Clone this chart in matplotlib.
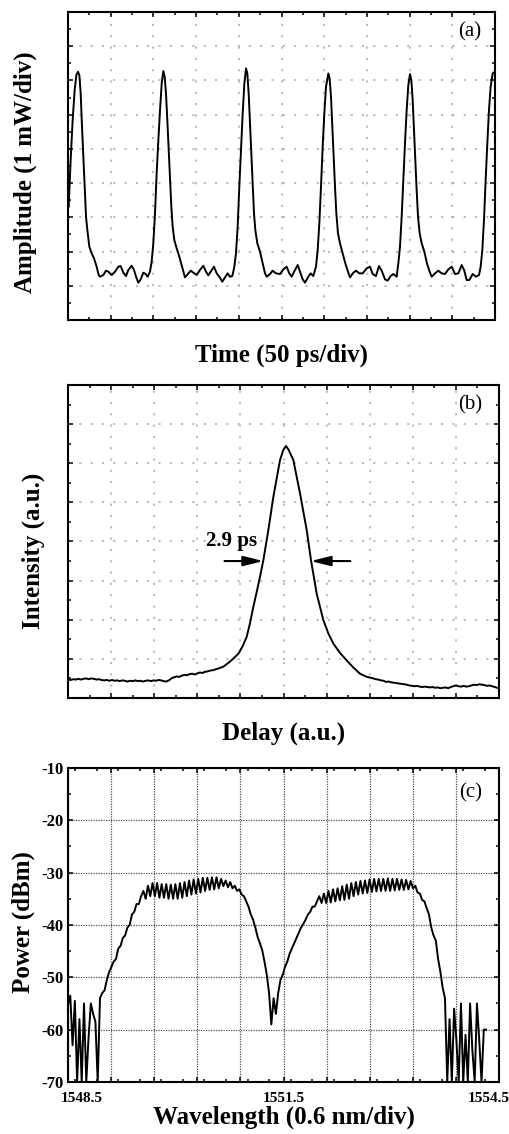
import numpy as np
import matplotlib
matplotlib.use('Agg')
import matplotlib.pyplot as plt
from matplotlib.ticker import MultipleLocator
from matplotlib.transforms import ScaledTranslation

plt.rcParams['font.family'] = 'Liberation Serif'
plt.rcParams['axes.unicode_minus'] = False

# ---------------- data ----------------
# (a) pulse train, time and amplitude in screen divisions
time_div = [
    0.016, 0.062, 0.109, 0.156, 0.195, 0.234, 0.265, 0.297, 0.328, 0.359,
    0.390, 0.422, 0.453, 0.500, 0.554, 0.609, 0.671, 0.718, 0.749,
    0.827, 0.890, 0.945, 1.023, 1.101, 1.179, 1.233, 1.296, 1.358, 1.413,
    1.491, 1.546, 1.593, 1.647, 1.702, 1.764, 1.819, 1.866,
    1.920, 1.959, 1.998, 2.037, 2.076, 2.116, 2.155, 2.194, 2.233, 2.264,
    2.295, 2.326, 2.358, 2.389, 2.420, 2.451, 2.490, 2.545, 2.607, 2.670, 2.740,
    2.818, 2.873, 2.935, 3.013, 3.091, 3.169, 3.232, 3.286, 3.341, 3.419,
    3.482, 3.544, 3.614, 3.677, 3.739, 3.794, 3.849,
    3.895, 3.934, 3.973, 4.012, 4.052, 4.091, 4.130, 4.169, 4.200, 4.231,
    4.262, 4.293, 4.325, 4.356, 4.387, 4.434, 4.496, 4.559, 4.614, 4.653,
    4.731, 4.793, 4.871, 4.965, 5.043, 5.121, 5.183, 5.238, 5.316, 5.379,
    5.433, 5.496, 5.550, 5.628, 5.683, 5.745,
    5.808, 5.847, 5.886, 5.925, 5.964, 6.003, 6.042, 6.097, 6.128, 6.159,
    6.190, 6.222, 6.253, 6.284, 6.323, 6.370, 6.432, 6.495, 6.557, 6.604,
    6.682, 6.745, 6.823, 6.901, 6.995, 7.073, 7.135, 7.213, 7.283, 7.346,
    7.424, 7.486, 7.557, 7.619, 7.697,
    7.736, 7.775, 7.814, 7.853, 7.892, 7.931, 7.970, 8.009, 8.041, 8.072,
    8.103, 8.134, 8.165, 8.197, 8.236, 8.283, 8.345, 8.407, 8.470, 8.517,
    8.595, 8.673, 8.751, 8.829, 8.907, 8.985, 9.063, 9.141, 9.219, 9.282,
    9.336, 9.399, 9.477, 9.555, 9.625,
    9.664, 9.703, 9.742, 9.781, 9.820, 9.859, 9.898, 9.945, 9.992,
]
amp_div = [
    3.311, 4.674, 5.842, 6.719, 7.157, 7.254, 7.157, 6.621, 5.648, 4.771,
    3.895, 3.018, 2.629, 2.142, 1.947, 1.801, 1.558, 1.315, 1.266,
    1.315, 1.441, 1.412, 1.315, 1.412, 1.558, 1.577, 1.383, 1.285, 1.461,
    1.587, 1.461, 1.266, 1.091, 1.188, 1.383, 1.344, 1.266,
    1.412, 1.704, 2.240, 3.116, 4.284, 5.258, 6.134, 6.913, 7.274, 7.108,
    6.621, 5.842, 4.966, 4.090, 3.311, 2.726, 2.337, 2.093, 1.850, 1.558, 1.246,
    1.363, 1.441, 1.383, 1.315, 1.461, 1.587, 1.412, 1.305, 1.412, 1.558,
    1.363, 1.266, 1.120, 1.246, 1.363, 1.266, 1.285,
    1.558, 1.947, 2.726, 3.895, 4.966, 6.037, 6.913, 7.351, 7.205, 6.621,
    5.745, 4.869, 3.895, 3.116, 2.629, 2.240, 1.996, 1.655, 1.363, 1.266,
    1.344, 1.441, 1.363, 1.344, 1.480, 1.558, 1.363, 1.266, 1.461, 1.607,
    1.412, 1.188, 1.091, 1.266, 1.363, 1.285,
    1.558, 2.045, 2.824, 3.895, 5.063, 6.037, 6.816, 7.205, 7.059, 6.524,
    5.648, 4.771, 3.895, 3.116, 2.532, 2.240, 1.947, 1.655, 1.412, 1.246,
    1.383, 1.441, 1.363, 1.363, 1.509, 1.558, 1.344, 1.285, 1.577, 1.441,
    1.188, 1.149, 1.285, 1.344, 1.266,
    1.655, 2.142, 3.018, 4.090, 5.161, 6.134, 6.865, 7.186, 7.011, 6.426,
    5.550, 4.674, 3.797, 3.018, 2.532, 2.240, 1.996, 1.655, 1.412, 1.266,
    1.363, 1.441, 1.363, 1.344, 1.480, 1.558, 1.344, 1.363, 1.607, 1.441,
    1.168, 1.168, 1.344, 1.266, 1.315,
    1.558, 2.045, 2.921, 4.090, 5.161, 6.134, 6.816, 7.205, 7.254,
]

# (b) autocorrelation trace, delay and intensity in screen divisions
delay_div = [
    0.00, 0.06, 0.12, 0.18, 0.24, 0.30, 0.36, 0.42, 0.48, 0.54,
    0.60, 0.66, 0.72, 0.78, 0.84, 0.90, 0.96, 1.02, 1.08, 1.14,
    1.20, 1.26, 1.32, 1.38, 1.44, 1.50, 1.56, 1.62, 1.68, 1.74,
    1.80, 1.86, 1.92, 1.98, 2.04, 2.10, 2.16, 2.22, 2.28, 2.34,
    2.40, 2.46, 2.52, 2.58, 2.64, 2.70, 2.76, 2.82, 2.88, 2.94,
    3.00, 3.06, 3.12, 3.18, 3.24, 3.30, 3.36, 3.42, 3.48, 3.604,
    3.70, 3.80, 3.952, 4.05, 4.145, 4.22, 4.300, 4.38, 4.455, 4.532,
    4.648, 4.764, 4.919, 4.996, 5.058, 5.120, 5.228, 5.383, 5.538, 5.638,
    5.769, 5.924, 6.040, 6.156, 6.311, 6.466, 6.620, 6.775, 6.930, 7.084,
    7.14, 7.20, 7.26, 7.32, 7.38, 7.44, 7.50, 7.56, 7.62, 7.68,
    7.74, 7.80, 7.86, 7.92, 7.98, 8.04, 8.10, 8.16, 8.22, 8.28,
    8.34, 8.40, 8.46, 8.52, 8.58, 8.64, 8.70, 8.76, 8.82, 8.88,
    8.94, 9.00, 9.06, 9.12, 9.18, 9.24, 9.30, 9.36, 9.42, 9.48,
    9.54, 9.60, 9.66, 9.72, 9.78, 9.84, 9.90, 9.96, 10.0,
]
intensity_div = [
    0.47, 0.46, 0.48, 0.47, 0.49, 0.47, 0.49, 0.50, 0.48, 0.50,
    0.49, 0.47, 0.48, 0.46, 0.45, 0.46, 0.44, 0.46, 0.44, 0.45,
    0.43, 0.45, 0.44, 0.42, 0.44, 0.43, 0.45, 0.43, 0.44, 0.42,
    0.44, 0.45, 0.43, 0.45, 0.44, 0.46, 0.45, 0.43, 0.42, 0.45,
    0.50, 0.53, 0.55, 0.54, 0.57, 0.59, 0.58, 0.61, 0.62, 0.60,
    0.63, 0.65, 0.64, 0.67, 0.68, 0.70, 0.71, 0.73, 0.75, 0.80,
    0.88, 0.97, 1.13, 1.32, 1.56, 1.90, 2.33, 2.72, 3.10, 3.52,
    4.29, 5.14, 6.08, 6.34, 6.44, 6.34, 6.08, 5.23, 4.29, 3.52,
    2.67, 1.99, 1.65, 1.39, 1.15, 0.96, 0.78, 0.62, 0.54, 0.50,
    0.48, 0.47, 0.45, 0.44, 0.41, 0.42, 0.40, 0.39, 0.38, 0.37,
    0.36, 0.35, 0.34, 0.32, 0.31, 0.30, 0.31, 0.29, 0.28, 0.29,
    0.28, 0.27, 0.28, 0.26, 0.27, 0.25, 0.26, 0.27, 0.25, 0.28,
    0.30, 0.32, 0.30, 0.29, 0.31, 0.29, 0.30, 0.32, 0.34, 0.33,
    0.35, 0.34, 0.33, 0.31, 0.32, 0.30, 0.28, 0.26, 0.24,
]
fwhm_left = 4.53
fwhm_right = 5.63
fwhm_level = 3.50
fwhm_text = '2.9 ps'

# (c) optical spectrum, power in dBm sampled uniformly in wavelength
wl_start = 1548.5
wl_stop = 1554.32
power_dbm = [
    -55, -53.5, -63, -54.5, -70, -58, -70, -55, -70, -61.5,
    -55, -57, -58.5, -70, -54, -53, -52.5, -50.5, -49, -48,
    -47, -46.5, -44.5, -44, -42.5, -42, -40.5, -40, -38, -37.5,
    -36, -36, -34.5, -33.5, -35, -32.5, -34.5, -32, -34.5, -32,
    -34.8, -32.2, -34.8, -32.2, -35, -32.3, -35, -32.2, -35, -32,
    -34.8, -31.8, -34.5, -31.5, -34.2, -31.3, -34, -31.2, -33.8, -31,
    -33.5, -31, -33.3, -30.9, -33.2, -30.9, -33, -31.2, -32.6, -31.5,
    -32.8, -31.8, -33, -32.5, -33.5, -33.2, -34.2, -34.5, -35.5, -36.5,
    -38, -39, -40.5, -42.3, -43.5, -44.8, -47, -49.5, -53, -59,
    -54, -57, -53, -50.5, -49.5, -48, -47, -45.5, -44.5, -43.5,
    -42.5, -41.5, -40.5, -39.8, -39, -38, -37.5, -36.5, -36.5, -35.5,
    -34.5, -35.8, -34, -35.8, -33.5, -35.7, -33.2, -35.5, -33, -35.3,
    -32.6, -35.2, -32.3, -35, -32, -34.5, -31.8, -34.2, -31.6, -34,
    -31.5, -33.9, -31.3, -33.7, -31.2, -33.6, -31.2, -33.5, -31.2, -33.5,
    -31.1, -33.5, -31.2, -33.4, -31.2, -33.3, -31.3, -33.3, -31.4, -33.2,
    -31.6, -33, -32.5, -33.8, -34, -35.2, -35.5, -36.8, -38, -40.5,
    -42, -43, -46.5, -49, -52, -54, -70, -58, -70, -56,
    -62, -70, -55, -70, -61, -70, -55, -64, -70, -55,
    -62, -70, -60, -60,
]
wl_ticks = [1548.5, 1549.1, 1549.7, 1550.3, 1550.9, 1551.5,
            1552.1, 1552.7, 1553.3, 1553.9, 1554.5]
wl_labels = ['1548.5', '', '', '', '', '1551.5', '', '', '', '', '1554.5']
power_ticks = [-70, -60, -50, -40, -30, -20, -10]
panel_tags = ['(a)', '(b)', '(c)']

wavelength = np.linspace(wl_start, wl_stop, len(power_dbm))

# ---------------- figure ----------------
fig = plt.figure(figsize=(5.09, 11.34), dpi=100)
ax1 = fig.add_axes([0.1336, 0.7178, 0.8389, 0.2716])
ax2 = fig.add_axes([0.1336, 0.3845, 0.8468, 0.2760])
ax3 = fig.add_axes([0.1336, 0.0459, 0.8468, 0.2769])

label_font = dict(fontsize=18, fontweight='bold')
light_grid = dict(color='#a8a8a8', linestyle=(0, (1.4, 6)), linewidth=1.1)


def style_frame(ax):
    for sp in ax.spines.values():
        sp.set_linewidth(1.5)
    ax.tick_params(which='both', direction='in', top=True, right=True, width=1.1)
    ax.tick_params(which='major', length=3.5)
    ax.tick_params(which='minor', length=2.2)
    ax.set_axisbelow(True)


def place_labels(ax, xlab, ylab, ylab_x, ylab_y, xlab_y):
    # centre both axis labels on given axes-fraction positions
    ax.set_xlabel(xlab, **label_font)
    ax.set_ylabel(ylab, **label_font)
    ax.xaxis.set_label_coords(0.5, xlab_y)
    ax.yaxis.set_label_coords(ylab_x, ylab_y)
    ax.xaxis.label.set_va('center')
    ax.yaxis.label.set_va('center')


# (a) pulse train
ax1.plot(time_div, amp_div, color='black', lw=1.4)
ax1.set_xlim(0, 10)
ax1.set_ylim(0, 9)
ax1.xaxis.set_major_locator(MultipleLocator(1))
ax1.xaxis.set_minor_locator(MultipleLocator(0.5))
ax1.yaxis.set_major_locator(MultipleLocator(1))
ax1.yaxis.set_minor_locator(MultipleLocator(0.5))
ax1.grid(which='major', **light_grid)
style_frame(ax1)
ax1.tick_params(labelbottom=False, labelleft=False)
place_labels(ax1, 'Time (50 ps/div)', 'Amplitude (1 mW/div)', -0.101, 0.48, -0.114)
ax1.text(0.94, 0.935, panel_tags[0], transform=ax1.transAxes,
         ha='center', va='center', fontsize=15)

# (b) autocorrelation
ax2.plot(delay_div, intensity_div, color='black', lw=1.4)
ax2.set_xlim(0, 10)
ax2.set_ylim(0, 8)
ax2.xaxis.set_major_locator(MultipleLocator(1))
ax2.xaxis.set_minor_locator(MultipleLocator(0.5))
ax2.yaxis.set_major_locator(MultipleLocator(1))
ax2.yaxis.set_minor_locator(MultipleLocator(0.5))
ax2.grid(which='major', **light_grid)
style_frame(ax2)
ax2.tick_params(labelbottom=False, labelleft=False)
place_labels(ax2, 'Delay (a.u.)', 'Intensity (a.u.)', -0.081, 0.47, -0.112)
ax2.text(0.933, 0.936, panel_tags[1], transform=ax2.transAxes,
         ha='center', va='center', fontsize=15)

# FWHM arrows
arrow_style = dict(arrowstyle='-|>,head_length=1.0,head_width=0.25',
                   color='black', lw=1.5, shrinkA=0, shrinkB=0, mutation_scale=12)
ax2.annotate('', xy=(fwhm_left, fwhm_level), xytext=(fwhm_left - 0.9, fwhm_level),
             arrowprops=arrow_style)
ax2.annotate('', xy=(fwhm_right, fwhm_level), xytext=(fwhm_right + 0.92, fwhm_level),
             arrowprops=arrow_style)
ax2.text(3.79, 4.0, fwhm_text, ha='center', va='center', fontsize=15, fontweight='bold')

# (c) spectrum
ax3.plot(wavelength, power_dbm, color='black', lw=1.4, clip_on=True)
ax3.set_xlim(1548.5, 1554.5)
ax3.set_ylim(-70, -10)
ax3.set_xticks(wl_ticks)
ax3.set_xticklabels(wl_labels)
ax3.xaxis.set_minor_locator(MultipleLocator(0.3))
ax3.set_yticks(power_ticks)
ax3.set_yticklabels([str(v) for v in power_ticks])
ax3.yaxis.set_minor_locator(MultipleLocator(5))
ax3.grid(which='major', color='#505050', linestyle=(0, (1, 1)), linewidth=0.9)
style_frame(ax3)
ax3.tick_params(axis='x', labelsize=11, pad=7)
ax3.tick_params(axis='y', labelsize=12, pad=3)
for lab in ax3.get_xticklabels() + ax3.get_yticklabels():
    lab.set_fontweight('bold')
# end labels pushed inward so they clear the y labels / figure edge
xlabs = ax3.get_xticklabels()
xlabs[0].set_transform(xlabs[0].get_transform() + ScaledTranslation(0.14, 0, fig.dpi_scale_trans))
xlabs[-1].set_transform(xlabs[-1].get_transform() + ScaledTranslation(-0.10, 0, fig.dpi_scale_trans))
place_labels(ax3, 'Wavelength (0.6 nm/div)', 'Power (dBm)', -0.104, 0.51, -0.111)
ax3.text(0.933, 0.92, panel_tags[2], transform=ax3.transAxes,
         ha='center', va='center', fontsize=15)

fig.savefig('out.png', dpi=100)
